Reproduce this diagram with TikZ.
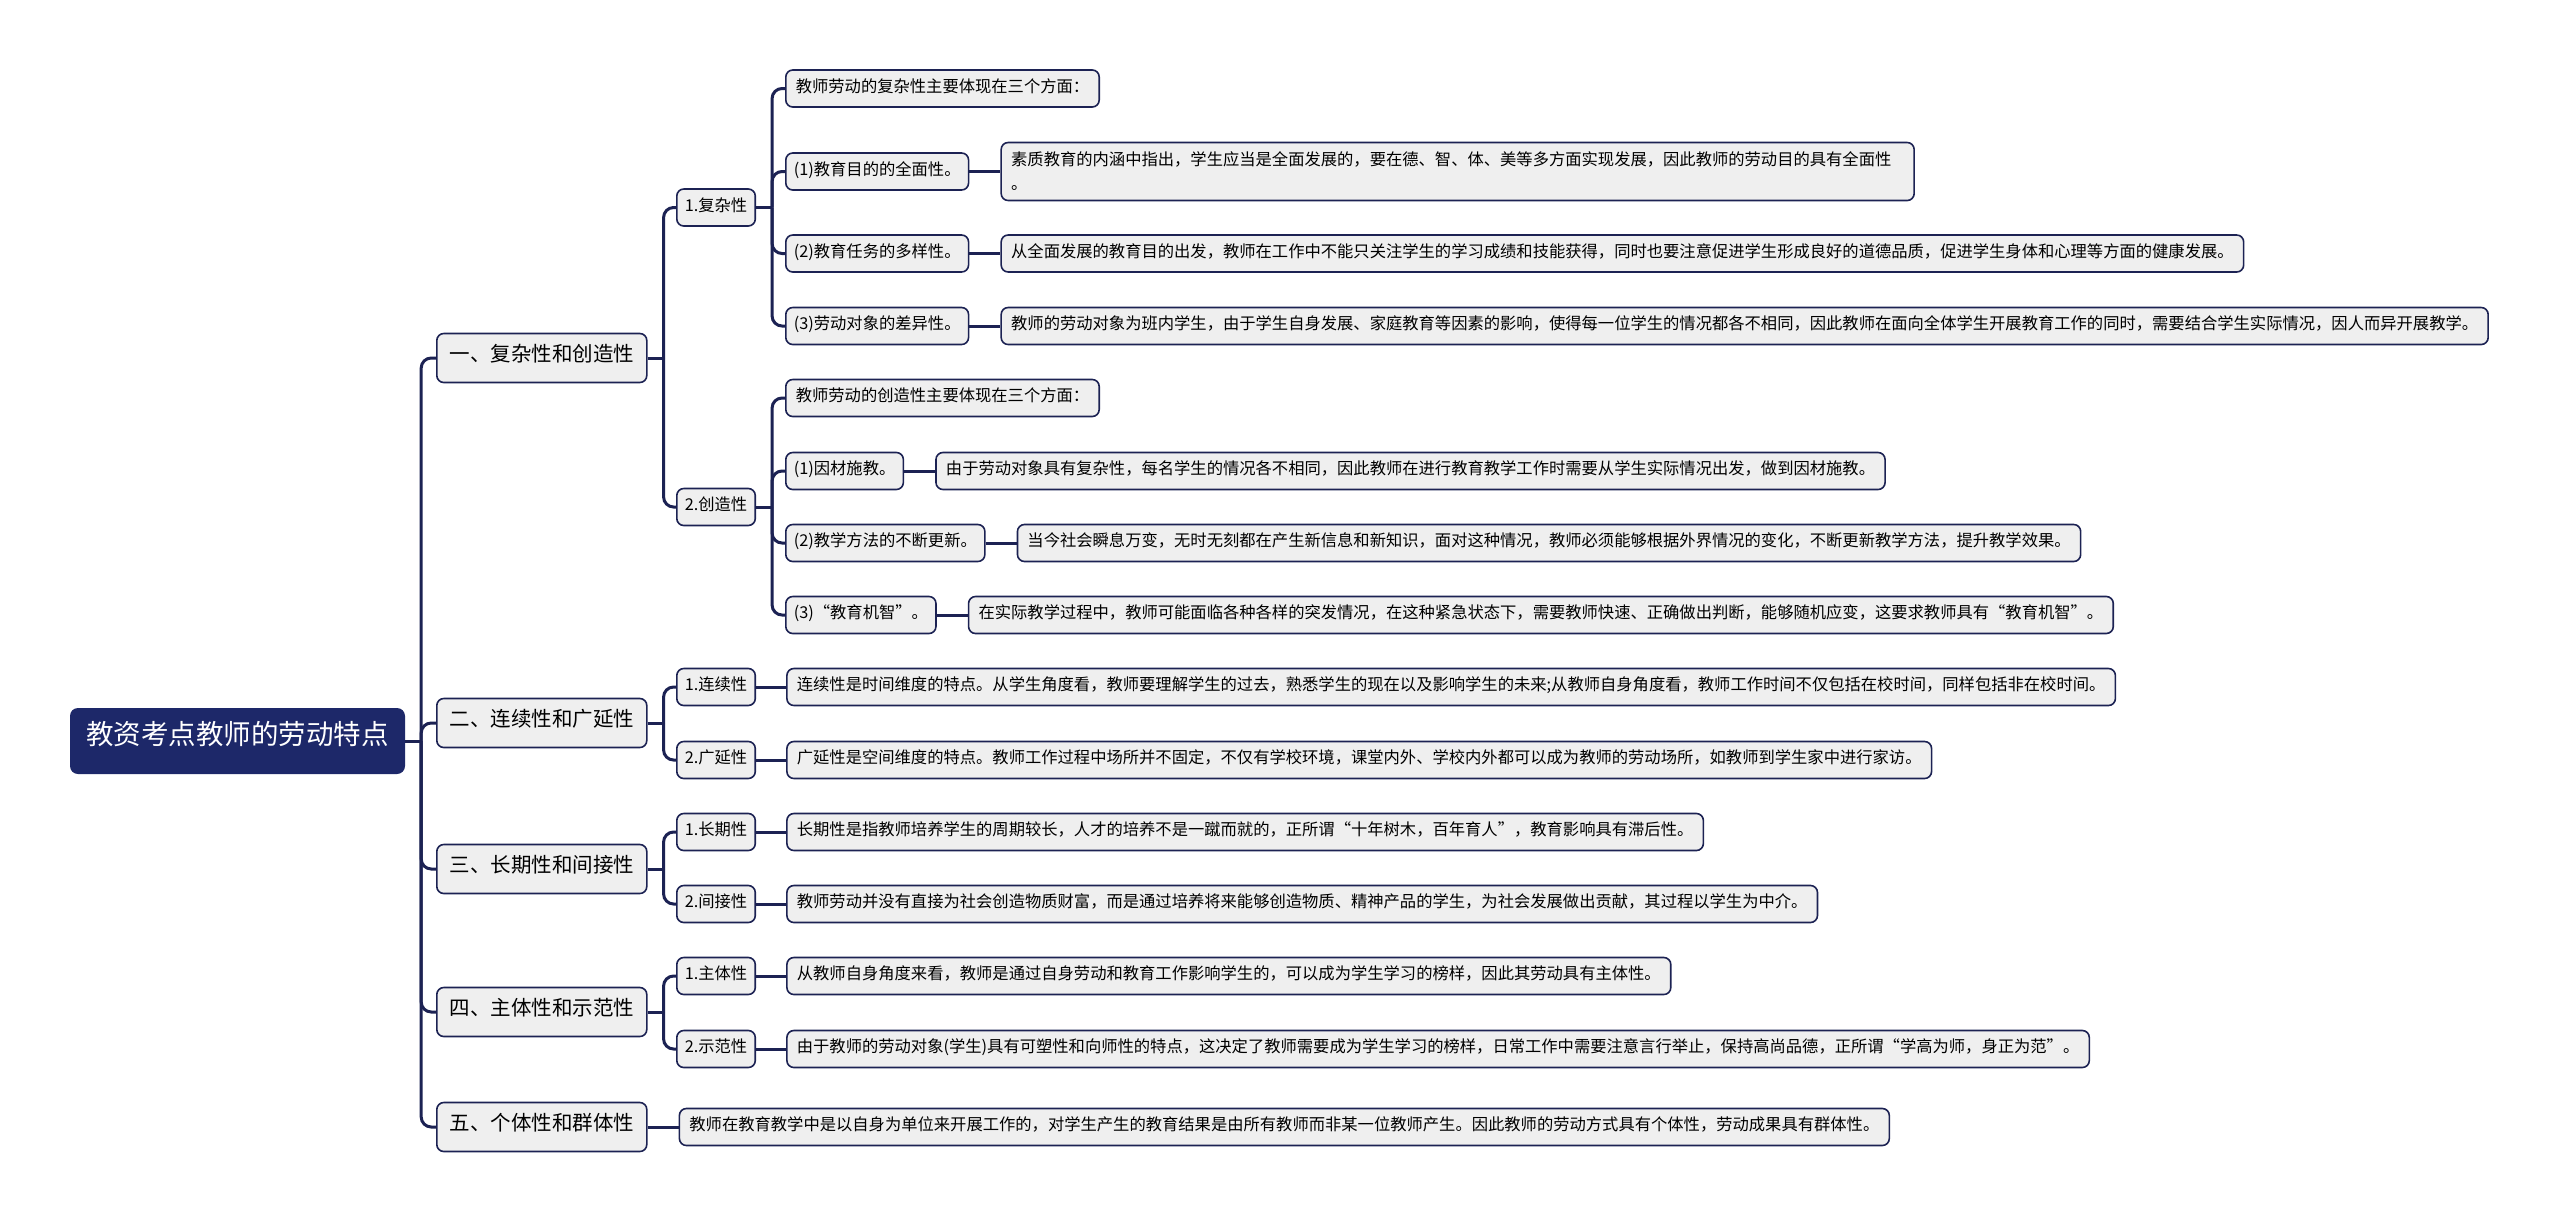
\documentclass[tikz,border=0pt]{standalone}
\usepackage{fontspec}
\setmainfont{Noto Sans CJK SC}
\usetikzlibrary{backgrounds}
\definecolor{navy}{HTML}{1C2253}
\definecolor{rootblue}{HTML}{1D2869}
\definecolor{boxgray}{HTML}{EFEFEF}
\tikzset{
  conn/.style={draw=navy, line width=3pt, rounded corners=10pt},
  rootbox/.style={fill=rootblue, rounded corners=8pt, text=white,
    font=\fontsize{27.5}{33}\selectfont, minimum height=66pt, inner xsep=16pt,
    text height=0.85em, text depth=0.15em},
  grey/.style={fill=boxgray, draw=navy, line width=1.6pt, rounded corners=7pt},
  onebox/.style={grey, font=\fontsize{20.5}{25}\selectfont, minimum height=49pt,
    minimum width=210pt, inner xsep=10pt, anchor=west,
    text height=0.85em, text depth=0.15em},
  twobox/.style={grey, font=\fontsize{16.3}{20}\selectfont, minimum height=37pt,
    inner xsep=8pt, anchor=west, text height=0.85em, text depth=0.15em},
  leafbox/.style={grey, font=\fontsize{16.3}{20}\selectfont, minimum height=37pt,
    inner xsep=10pt, anchor=west, text height=0.85em, text depth=0.15em},
}
\begin{document}
\begin{tikzpicture}[x=1pt,y=-1pt]
\useasboundingbox (0,0) rectangle (2560,1221);

% root
\node[rootbox, minimum width=335pt] (root) at (237.5,741) {教资考点教师的劳动特点};

% level 1
\node[onebox] (A) at (436,358) {一、复杂性和创造性};
\node[onebox] (B) at (436,723) {二、连续性和广延性};
\node[onebox] (C) at (436,869) {三、长期性和间接性};
\node[onebox] (D) at (436,1012) {四、主体性和示范性};
\node[onebox] (E) at (436,1127) {五、个体性和群体性};

% level 2
\node[twobox] (A1) at (676,207.5) {1.复杂性};
\node[twobox] (A2) at (676,507) {2.创造性};
\node[twobox] (B1) at (676,687) {1.连续性};
\node[twobox] (B2) at (676,760) {2.广延性};
\node[twobox] (C1) at (676,832) {1.长期性};
\node[twobox] (C2) at (676,904) {2.间接性};
\node[twobox] (D1) at (676,976) {1.主体性};
\node[twobox] (D2) at (676,1049) {2.示范性};
\node[leafbox] (E1) at ([xshift=31pt]E.east) {教师在教育教学中是以自身为单位来开展工作的，对学生产生的教育结果是由所有教师而非某一位教师产生。因此教师的劳动方式具有个体性，劳动成果具有群体性。};

% level 3 under 复杂性
\node[leafbox] (a0) at (785,88.5) {教师劳动的复杂性主要体现在三个方面：};
\node[twobox] (a1) at (785,171.5) {(1)教育目的的全面性。};
\node[twobox] (a2) at (785,253.5) {(2)教育任务的多样性。};
\node[twobox] (a3) at (785,326) {(3)劳动对象的差异性。};
\node[grey, font=\fontsize{16.3}{24}\selectfont, minimum height=58pt, text width=893pt,
  inner xsep=10pt, anchor=west, align=left] (a1d) at ([xshift=31pt]a1.east)
  {素质教育的内涵中指出，学生应当是全面发展的，要在德、智、体、美等多方面实现发展，因此教师的劳动目的具有全面性\\。};
\node[leafbox] (a2d) at ([xshift=31pt]a2.east) {从全面发展的教育目的出发，教师在工作中不能只关注学生的学习成绩和技能获得，同时也要注意促进学生形成良好的道德品质，促进学生身体和心理等方面的健康发展。};
\node[leafbox] (a3d) at ([xshift=31pt]a3.east) {教师的劳动对象为班内学生，由于学生自身发展、家庭教育等因素的影响，使得每一位学生的情况都各不相同，因此教师在面向全体学生开展教育工作的同时，需要结合学生实际情况，因人而异开展教学。};

% level 3 under 创造性
\node[leafbox] (b0) at (785,398) {教师劳动的创造性主要体现在三个方面：};
\node[twobox] (b1) at (785,471) {(1)因材施教。};
\node[twobox] (b2) at (785,543) {(2)教学方法的不断更新。};
\node[twobox] (b3) at (785,615) {(3)“教育机智”。};
\node[leafbox] (b1d) at ([xshift=31pt]b1.east) {由于劳动对象具有复杂性，每名学生的情况各不相同，因此教师在进行教育教学工作时需要从学生实际情况出发，做到因材施教。};
\node[leafbox] (b2d) at ([xshift=31pt]b2.east) {当今社会瞬息万变，无时无刻都在产生新信息和新知识，面对这种情况，教师必须能够根据外界情况的变化，不断更新教学方法，提升教学效果。};
\node[leafbox] (b3d) at ([xshift=31pt]b3.east) {在实际教学过程中，教师可能面临各种各样的突发情况，在这种紧急状态下，需要教师快速、正确做出判断，能够随机应变，这要求教师具有“教育机智”。};

% details of 二 三 四
\node[leafbox] (B1d) at ([xshift=30pt]B1.east) {连续性是时间维度的特点。从学生角度看，教师要理解学生的过去，熟悉学生的现在以及影响学生的未来;从教师自身角度看，教师工作时间不仅包括在校时间，同样包括非在校时间。};
\node[leafbox] (B2d) at ([xshift=30pt]B2.east) {广延性是空间维度的特点。教师工作过程中场所并不固定，不仅有学校环境，课堂内外、学校内外都可以成为教师的劳动场所，如教师到学生家中进行家访。};
\node[leafbox] (C1d) at ([xshift=30pt]C1.east) {长期性是指教师培养学生的周期较长，人才的培养不是一蹴而就的，正所谓“十年树木，百年育人”，教育影响具有滞后性。};
\node[leafbox] (C2d) at ([xshift=30pt]C2.east) {教师劳动并没有直接为社会创造物质财富，而是通过培养将来能够创造物质、精神产品的学生，为社会发展做出贡献，其过程以学生为中介。};
\node[leafbox] (D1d) at ([xshift=30pt]D1.east) {从教师自身角度来看，教师是通过自身劳动和教育工作影响学生的，可以成为学生学习的榜样，因此其劳动具有主体性。};
\node[leafbox] (D2d) at ([xshift=30pt]D2.east) {由于教师的劳动对象(学生)具有可塑性和向师性的特点，这决定了教师需要成为学生学习的榜样，日常工作中需要注意言行举止，保持高尚品德，正所谓“学高为师，身正为范”。};

\begin{pgfonlayer}{background}
\fill[white] (0,0) rectangle (2560,1221);
% root trunk
\coordinate (jr) at ([xshift=16pt]root.east);
\draw[conn] (root.east) -- (jr);
\foreach \n in {A,B,C,D,E} \draw[conn] (jr) |- (\n.west);
% level 1 -> level 2
\coordinate (jA) at ([xshift=16pt]A.east);
\draw[conn] (A.east) -- (jA);
\foreach \n in {A1,A2} \draw[conn] (jA) |- (\n.west);
\coordinate (jB) at ([xshift=16pt]B.east);
\draw[conn] (B.east) -- (jB);
\foreach \n in {B1,B2} \draw[conn] (jB) |- (\n.west);
\coordinate (jC) at ([xshift=16pt]C.east);
\draw[conn] (C.east) -- (jC);
\foreach \n in {C1,C2} \draw[conn] (jC) |- (\n.west);
\coordinate (jD) at ([xshift=16pt]D.east);
\draw[conn] (D.east) -- (jD);
\foreach \n in {D1,D2} \draw[conn] (jD) |- (\n.west);
\draw[conn] (E.east) -- (E1.west);
% level 2 -> level 3
\coordinate (jA1) at ([xshift=16pt]A1.east);
\draw[conn] (A1.east) -- (jA1);
\foreach \n in {a0,a1,a2,a3} \draw[conn] (jA1) |- (\n.west);
\coordinate (jA2) at ([xshift=16pt]A2.east);
\draw[conn] (A2.east) -- (jA2);
\foreach \n in {b0,b1,b2,b3} \draw[conn] (jA2) |- (\n.west);
% details
\foreach \n in {a1,a2,a3,b1,b2,b3,B1,B2,C1,C2,D1,D2} \draw[conn] (\n.east) -- (\n d.west);
\end{pgfonlayer}
\end{tikzpicture}
\end{document}
